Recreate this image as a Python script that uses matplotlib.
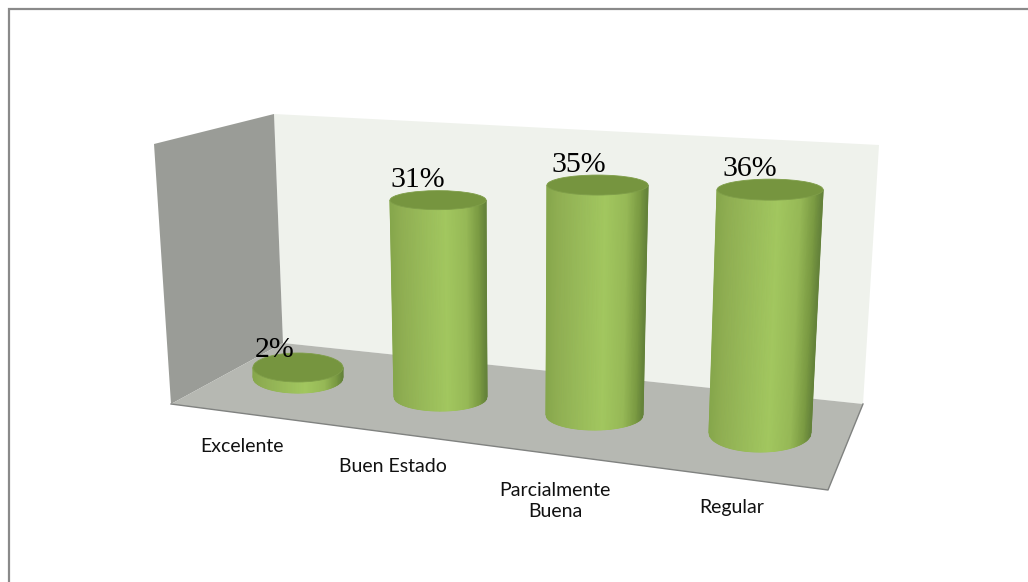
import numpy as np
import matplotlib
matplotlib.use("Agg")
import matplotlib.pyplot as plt
from matplotlib.colors import LinearSegmentedColormap
from matplotlib.patches import Ellipse, Polygon

# Chart data
categories = ["Excelente", "Buen Estado", "Parcialmente\nBuena", "Regular"]
values = [2, 31, 35, 36]
value_labels = ["2%", "31%", "35%", "36%"]

# Perspective layout of each column on the floor (canvas pixels)
base_x = [298.0, 440.5, 594.5, 760.0]
base_y = [377.5, 397.0, 415.0, 433.0]
base_half_w = [45.0, 46.5, 48.5, 51.0]
top_half_w = [45.0, 48.0, 50.5, 53.0]
lean_per_pct = [0.0, -0.08, 0.086, 0.28]
px_per_pct = [5.0, 6.35, 6.57, 6.76]
base_ry = [15.5, 14.0, 15.0, 19.0]
top_ry = [14.5, 9.5, 10.0, 10.5]

value_dx = [-23, -20, -19, -20]
value_dy = [-10.5, -13, -13, -13.5]
label_xy = [(242, 446), (392.5, 467), (555, 501), (731.5, 508)]

W, H = 1028, 582
fig = plt.figure(figsize=(W / 100, H / 100), dpi=100, facecolor="white")
ax = fig.add_axes([0, 0, 1, 1])
ax.set_xlim(0, W)
ax.set_ylim(H, 0)
ax.axis("off")

# Outer chart frame: only the top and left edges are in view
ax.plot([8.5, 8.5, W], [H, 8.5, 8.5], color="#8a8a8a", lw=1.6, solid_joinstyle="miter", zorder=1)

# Room walls and floor
ax.add_patch(Polygon([(274, 114), (879, 145), (863, 404), (283, 343)], fc="#eff2ec", ec="none", zorder=2))
ax.add_patch(Polygon([(154, 144), (274, 114), (283, 343), (171, 404)], fc="#9a9c97", ec="none", zorder=2))
ax.add_patch(Polygon([(283, 343), (863, 404), (828, 490), (171, 404)], fc="#b6b8b2", ec="none", zorder=3))
ax.plot([171, 828, 863], [404, 490, 404], color="#808280", lw=1.0, zorder=3)

# Lighting across a column, dark rim to bright centre-right
shade = LinearSegmentedColormap.from_list(
    "column",
    [(0.00, "#86a74c"), (0.10, "#8fae52"), (0.32, "#98ba59"), (0.58, "#a2c75f"),
     (0.80, "#96b856"), (0.93, "#7a9a42"), (1.00, "#64823a")],
)

for i, v in enumerate(values):
    rise = v * px_per_pct[i]
    bx, by, bw = base_x[i], base_y[i], base_half_w[i]
    tx = bx + v * lean_per_pct[i]
    ty = by - rise
    tw = top_half_w[i]

    u = np.linspace(-1, 1, 121)
    arc = np.sqrt(1 - u ** 2)
    xs = np.vstack([tx + tw * u, bx + bw * u])
    ys = np.vstack([np.full_like(u, ty), by + base_ry[i] * arc])
    cs = np.vstack([(u + 1) / 2, (u + 1) / 2])
    ax.pcolormesh(xs, ys, cs, cmap=shade, vmin=0, vmax=1, shading="gouraud", zorder=5 + i, rasterized=True)

    ax.add_patch(Ellipse((tx, ty), 2 * tw, 2 * top_ry[i], fc="#76953f", ec="#7f9e49", lw=0.6, zorder=5.5 + i))

    ax.text(tx + value_dx[i], ty + value_dy[i], value_labels[i], family="Liberation Serif", fontsize=21.5,
            color="black", ha="center", va="baseline", zorder=12)

for (x, y), name in zip(label_xy, categories):
    ax.text(x, y, name, family="Lato", fontsize=14, color="#111111", ha="center", va="center",
            linespacing=1.35, zorder=12)

fig.savefig("out.png", dpi=100)
